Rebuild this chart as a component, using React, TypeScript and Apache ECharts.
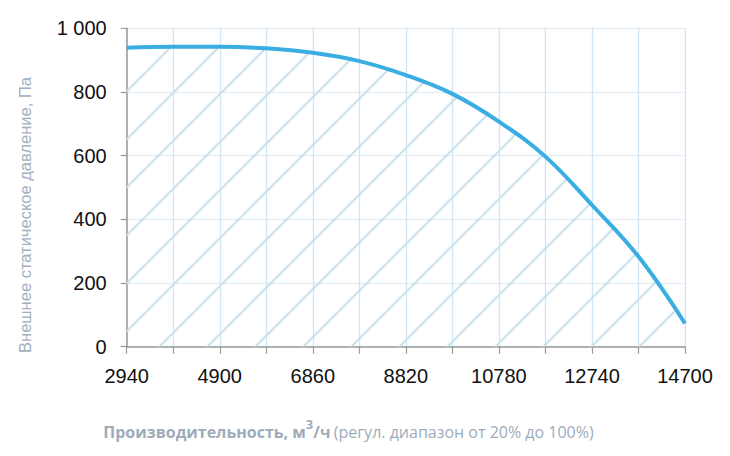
import React, { useEffect, useRef } from "react";
import * as echarts from "echarts";

const flowValues = [2940, 3920, 4900, 5880, 6860, 7840, 8820, 9800, 10780, 11760, 12740, 13720, 14700];
const pressureValues = [939, 942, 942, 937, 923, 897, 853, 794, 707, 597, 445, 283, 73];
const xTitleBold = "Производительность, м";
const xTitleSup = "3";
const xTitleUnit = "/ч";
const xTitleNote = "(регул. диапазон от 20% до 100%)";
const yTitle = "Внешнее статическое давление, Па";

const LABEL_FONT = "'Liberation Sans', Arial, sans-serif";

function makeHatch(): HTMLCanvasElement {
  const T = 48;
  const c = document.createElement("canvas");
  c.width = T;
  c.height = T;
  const ctx = c.getContext("2d")!;
  ctx.clearRect(0, 0, T, T);
  ctx.strokeStyle = "#c9e3ee";
  ctx.lineWidth = 2.2;
  for (const k of [26 - T, 26, 26 + T, 26 + 2 * T]) {
    ctx.beginPath();
    ctx.moveTo(k + 10, -10);
    ctx.lineTo(-10, k + 10);
    ctx.stroke();
  }
  return c;
}

export default function App() {
  const ref = useRef<HTMLDivElement>(null);
  useEffect(() => {
    if (!ref.current) return;
    const chart = echarts.init(ref.current, undefined, { renderer: "svg" });
    const hatch = makeHatch();
    const data = flowValues.map((q, i) => [q, pressureValues[i]]);
    chart.setOption({
      animation: false,
      backgroundColor: "#ffffff",
      grid: { left: 126.7, right: 45, top: 28.3, bottom: 109.3, containLabel: false },
      xAxis: {
        type: "value",
        min: 2940,
        max: 14700,
        interval: 980,
        axisLine: { show: true, lineStyle: { color: "#9a9a9a", width: 1.5 } },
        axisTick: { show: true, length: 7, lineStyle: { color: "#9a9a9a", width: 1.2 } },
        axisLabel: {
          margin: 19,
          color: "#111111",
          fontSize: 20,
          fontFamily: LABEL_FONT,
          formatter: (v: number) => (Math.round((v - 2940) / 980) % 2 === 0 ? String(v) : ""),
        },
        splitLine: { show: true, lineStyle: { color: "#d3e4f3", width: 1.3 } },
      },
      yAxis: {
        type: "value",
        min: 0,
        max: 1000,
        interval: 200,
        axisLine: { show: true, lineStyle: { color: "#9a9a9a", width: 1.5 } },
        axisTick: { show: true, length: 6, lineStyle: { color: "#9a9a9a", width: 1.2 } },
        axisLabel: {
          margin: 20,
          color: "#111111",
          fontSize: 20,
          fontFamily: LABEL_FONT,
          formatter: (v: number) => String(v).replace(/\B(?=(\d{3})+(?!\d))/g, " "),
        },
        splitLine: { show: true, lineStyle: { color: "#e6eef6", width: 1.3 } },
      },
      series: [
        {
          type: "line",
          data,
          smooth: 0.4,
          showSymbol: false,
          symbol: "none",
          lineStyle: { color: "#3aaee2", width: 4 },
          areaStyle: {
            color: { image: hatch, repeat: "repeat", imageWidth: 48, imageHeight: 48 } as any,
            opacity: 1,
          },
          z: 3,
        },
      ],
      graphic: [
        {
          type: "text",
          x: 25,
          y: 215,
          rotation: Math.PI / 2,
          style: {
            text: yTitle,
            fill: "#a2b0be",
            font: "16.5px 'Liberation Sans', Arial, sans-serif",
            align: "center",
            verticalAlign: "middle",
          },
        },
        {
          type: "text",
          x: 348.5,
          y: 432,
          style: {
            text: `{b|${xTitleBold}}{s|${xTitleSup}}{b|${xTitleUnit}} {n|${xTitleNote}}`,
            align: "center",
            verticalAlign: "middle",
            rich: {
              b: { fill: "#9eacba", fontFamily: "'Open Sans', sans-serif", fontWeight: "bold", fontSize: 16, lineHeight: 30 },
              s: { fill: "#9eacba", fontFamily: "'Open Sans', sans-serif", fontWeight: "bold", fontSize: 13, lineHeight: 16, verticalAlign: "top" },
              n: { fill: "#9eacba", fontFamily: "'Open Sans', sans-serif", fontSize: 16, lineHeight: 30 },
            },
          },
        },
      ],
    });
    return () => chart.dispose();
  }, []);
  return <div ref={ref} style={{ position: "absolute", left: 0, top: 0, width: 730, height: 456 }} />;
}
